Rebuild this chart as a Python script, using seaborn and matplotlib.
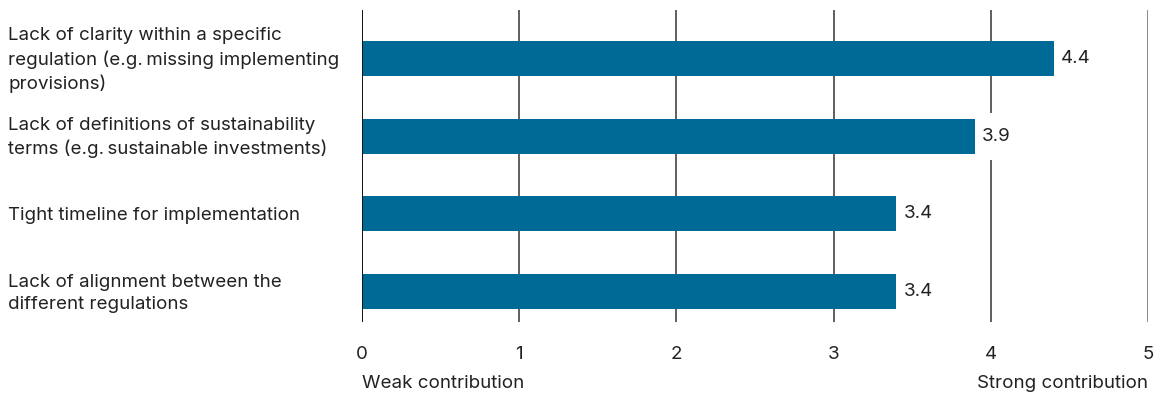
import matplotlib
matplotlib.use("Agg")
import matplotlib.pyplot as plt
import seaborn as sns
import pandas as pd

categories = [
    "Lack of clarity within a specific\nregulation (e.g.\u2009missing implementing\nprovisions)",
    "Lack of definitions of sustainability\nterms (e.g.\u2009sustainable investments)",
    "Tight timeline for implementation",
    "Lack of alignment between the\ndifferent regulations",
]
values = [4.4, 3.9, 3.4, 3.4]
value_labels = ["4.4", "3.9", "3.4", "3.4"]
x_ticks = [0, 1, 2, 3, 4, 5]
x_left_label = "Weak contribution"
x_right_label = "Strong contribution"

sns.set_theme(style="white")
plt.rcParams["font.family"] = ["Inter", "DejaVu Sans"]

df = pd.DataFrame({"category": categories, "value": values})

W, H = 1161, 401
FS = 13.5
TC = "#222222"
fig = plt.figure(figsize=(W / 100, H / 100), dpi=100)
ax = fig.add_axes([362 / W, 1 - 322 / H, (1148 - 362) / W, (322 - 10) / H])

sns.barplot(data=df, x="value", y="category", color="#006A96", width=0.45,
            saturation=1, ax=ax, linewidth=0, edgecolor="none")
for p in ax.patches:
    p.set_zorder(5)

ax.set_xlim(0, 5)
ax.set_ylim(3.39, -0.624)
for t in x_ticks:
    if t == 0:
        ax.axvline(t, color="#111111", lw=1.4, zorder=6)
    elif t == 5:
        ax.axvline(t, color="#8a8a8a", lw=1.4, zorder=1)
    else:
        ax.axvline(t, color="#444444", lw=1.2, zorder=1)

for s in ax.spines.values():
    s.set_visible(False)

ax.set_xticks(x_ticks)
ax.set_xticklabels([str(t) for t in x_ticks], fontsize=FS, color=TC)
ax.tick_params(axis="x", length=0, pad=17)
ax.set_yticks([])
ax.set_xlabel("")
ax.set_ylabel("")

for i, (v, lab) in enumerate(zip(values, value_labels)):
    ax.text(v + 0.045, i, lab, va="center", ha="left", fontsize=FS, color=TC,
            zorder=3, bbox=dict(boxstyle="square,pad=0.8", fc="white", ec="none"))

for i, c in enumerate(categories):
    ypix = ax.transData.transform((0, i))[1] - 1.5
    fig.text(8 / W, ypix / H, c, ha="left", va="center",
             fontsize=FS, color=TC, linespacing=1.4)

fig.text(362 / W, 1 - 384 / H, x_left_label, ha="left", va="center", fontsize=FS, color=TC)
fig.text(1148 / W, 1 - 384 / H, x_right_label, ha="right", va="center", fontsize=FS, color=TC)

fig.savefig("out.png", dpi=100)
